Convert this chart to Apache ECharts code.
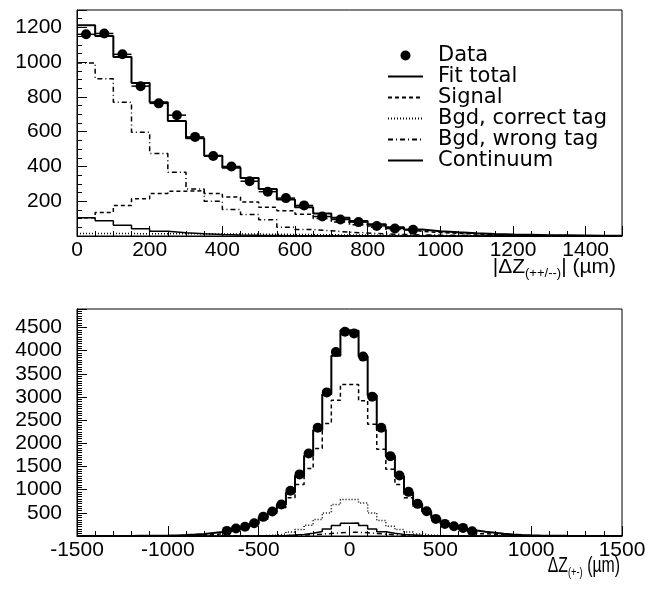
<!DOCTYPE html>
<html>
<head>
<meta charset="utf-8">
<script src="https://cdn.jsdelivr.net/npm/echarts@6/dist/echarts.min.js"></script>
<style>
html,body{margin:0;padding:0;background:#fff}
#chart{width:660px;height:591px}
</style>
</head>
<body>
<div id="chart"></div>
<script>
// top panel: |dZ(++/--)|, 50 um bins from 0
var topStart = 0, topBin = 50
var topData    = [1160, 1165, 1045, 862, 763, 695, 570, 460, 400, 315, 255, 218, 176, 112, 95, 80, 58, 43, 36]
var topFit     = [1212, 1150, 1030, 880, 770, 662, 562, 462, 392, 334, 271, 210, 165, 130, 105, 87, 67, 50, 37, 28, 21, 16, 12, 9, 7, 5, 4, 3, 2, 2]
var topSignal  = [105, 135, 175, 214, 245, 258, 260, 245, 225, 196, 165, 145, 125, 100, 80, 65, 50, 37, 27, 20, 15, 11, 8, 6, 4, 3, 2, 2, 1, 1]
var topCorrect = [14, 14, 14, 13, 13, 13, 12, 12, 11, 11, 10, 9, 8, 7, 6, 5, 4, 3, 3, 2, 2, 1, 1, 1, 1, 0, 0, 0, 0, 0]
var topWrong   = [995, 905, 769, 597, 474, 367, 271, 200, 152, 124, 93, 51, 37, 30, 22, 17, 12, 9, 6, 5, 4, 3, 2, 2, 1, 1, 1, 1, 0, 0]
var topCont    = [105, 88, 62, 42, 28, 19, 13, 9, 6, 4, 3, 2, 2, 1, 1, 1, 0, 0, 0, 0, 0, 0, 0, 0, 0, 0, 0, 0, 0, 0]

// bottom panel: dZ(+-), 50 um bins from -1500
var botStart = -1500, botBin = 50, botDataStart = -700
var botData    = [110, 160, 200, 275, 413, 530, 680, 975, 1330, 1780, 2337, 3100, 3970, 4410,
                  4370, 3872, 3008, 2337, 1724, 1306, 953, 694, 534, 369, 261, 210, 175, 102]
var botFit     = [0, 1, 1, 1, 2, 2, 3, 4, 6, 9, 13, 20, 30, 45, 65, 85, 125, 165, 205, 275, 400, 525, 680, 940, 1300, 1730, 2290, 3060, 3890, 4440,
                  4430, 3880, 3040, 2300, 1730, 1290, 940, 690, 525, 390, 275, 210, 165, 120, 90, 70, 50, 35, 24, 15, 10, 7, 5, 3, 2, 2, 1, 1, 1, 0]
var botSignal  = [0, 0, 0, 1, 1, 1, 2, 2, 3, 5, 7, 11, 17, 24, 33, 45, 95, 150, 190, 250, 360, 490, 615, 823, 1111, 1455, 1890, 2430, 2930, 3270,
                  3270, 2920, 2410, 1870, 1440, 1111, 823, 620, 495, 360, 255, 195, 150, 95, 50, 38, 27, 19, 13, 8, 6, 4, 3, 2, 1, 1, 1, 0, 0, 0]
var botCorrect = [0, 0, 0, 0, 0, 0, 0, 0, 0, 0, 0, 0, 0, 0, 0, 0, 1, 2, 3, 5, 10, 20, 45, 89, 138, 231, 355, 499, 679, 787,
                  787, 715, 499, 333, 210, 138, 89, 45, 20, 10, 5, 3, 2, 1, 0, 0, 0, 0, 0, 0, 0, 0, 0, 0, 0, 0, 0, 0, 0, 0]
var botWrong   = [0, 0, 0, 0, 0, 0, 0, 0, 0, 0, 0, 0, 0, 0, 0, 0, 0, 1, 1, 2, 3, 5, 8, 12, 18, 28, 40, 55, 70, 80,
                  80, 70, 55, 40, 28, 18, 12, 8, 5, 3, 2, 1, 1, 0, 0, 0, 0, 0, 0, 0, 0, 0, 0, 0, 0, 0, 0, 0, 0, 0]
var botCont    = [0, 0, 0, 0, 0, 0, 0, 0, 0, 0, 0, 0, 0, 0, 0, 0, 1, 1, 2, 3, 5, 8, 13, 22, 35, 60, 95, 150, 225, 275,
                  280, 225, 150, 92, 58, 35, 22, 13, 8, 5, 3, 2, 1, 1, 0, 0, 0, 0, 0, 0, 0, 0, 0, 0, 0, 0, 0, 0, 0, 0]

var FONT = 'Liberation Sans'

// histogram -> step points on bin edges
function steps(start, w, vals){
    var pts = vals.map(function(v,i){ return [start + i*w, v] })
    pts.push([start + vals.length*w, vals[vals.length-1]])
    return pts
}
function centers(start, w, vals){
    return vals.map(function(v,i){ return [start + (i+0.5)*w, v] })
}

function histo(name, idx, pts, type, width){
    return {
        name: name, type: 'line', step: 'end', xAxisIndex: idx, yAxisIndex: idx,
        data: pts, symbol: 'none', silent: true,
        itemStyle: {color: '#000'},
        lineStyle: {color: '#000', width: width, type: type}
    }
}
function errBars(idx, pts, half){
    return {
        name: 'err' + idx, type: 'custom', xAxisIndex: idx, yAxisIndex: idx, data: pts, silent: true, z: 4,
        renderItem: function(params, api){
            var x = api.value(0), y = api.value(1)
            var a = api.coord([x - half, y]), b = api.coord([x + half, y])
            return {type: 'line', shape: {x1: a[0], y1: a[1], x2: b[0], y2: b[1]}, style: {stroke: '#000', lineWidth: 1.5}}
        }
    }
}
function dots(idx, pts){
    return {
        name: 'Data', type: 'scatter', xAxisIndex: idx, yAxisIndex: idx, data: pts,
        symbol: 'circle', symbolSize: 10, itemStyle: {color: '#000', opacity: 1}, z: 5, silent: true
    }
}

var dashSignal = [4, 3], dotCorrect = [1, 2], dashWrong = [5, 3, 1, 3]

var label = {color: '#000', fontFamily: FONT, fontSize: 21, formatter: function(v){ return String(v) }}
function xAx(idx, min, max, interval, minorSplit, showMax){
    return {
        type: 'value', gridIndex: idx, min: min, max: max, interval: interval,
        axisLine: {onZero: false, lineStyle: {color: '#000', width: 1}},
        axisTick: {inside: true, length: 10, lineStyle: {color: '#000'}},
        minorTick: {show: true, splitNumber: minorSplit, length: 5, lineStyle: {color: '#000'}},
        splitLine: {show: false},
        axisLabel: Object.assign({margin: 4, showMaxLabel: showMax}, label)
    }
}
function yAx(idx, max, interval, minorSplit){
    return {
        type: 'value', gridIndex: idx, min: 0, max: max, interval: interval,
        axisLine: {show: true, onZero: false, lineStyle: {color: '#000', width: 1}},
        axisTick: {show: true, inside: true, length: 10, lineStyle: {color: '#000'}},
        minorTick: {show: true, splitNumber: minorSplit, length: 5, lineStyle: {color: '#000'}},
        splitLine: {show: false},
        axisLabel: Object.assign({margin: 15, showMinLabel: false, showMaxLabel: false}, label)
    }
}
// axis titles with subscripts
function axisTitle(text, right, top, size, sx){
    return {
        type: 'text', right: right, top: top, silent: true, scaleX: sx,
        style: {
            text: text, fill: '#000', fontFamily: FONT, fontSize: size, lineHeight: 26,
            rich: {s: {fontSize: 13, lineHeight: 14, verticalAlign: 'bottom', fontFamily: FONT, fill: '#000'}}
        }
    }
}

var chart = echarts.init(document.getElementById('chart'), null, {renderer: 'canvas'})
chart.setOption({
    animation: false,
    backgroundColor: '#fff',
    grid: [
        {left: 77, top: 10, width: 545, height: 226, show: true, borderColor: '#000', borderWidth: 1, containLabel: false, outerBoundsMode: 'none'},
        {left: 77, top: 309, width: 545, height: 227, show: true, borderColor: '#000', borderWidth: 1, containLabel: false, outerBoundsMode: 'none'}
    ],
    xAxis: [
        xAx(0, 0, 1500, 200, 4, false),
        xAx(1, -1500, 1500, 500, 5, true)
    ],
    yAxis: [
        yAx(0, 1300, 200, 4),
        yAx(1, 4900, 500, 10)
    ],
    graphic: [
        axisTitle('|ΔZ{s|(++/--)}| (µm)', 44, 254, 21, 1),
        axisTitle('ΔZ{s|(+-)} (µm)', 40, 553, 22, 0.72)
    ],
    legend: {
        orient: 'vertical', left: 387, top: 45, padding: 0,
        itemWidth: 35, itemHeight: 10, itemGap: 0,
        selectedMode: false,
        itemStyle: {opacity: 0},
        textStyle: {color: '#000', fontFamily: 'DejaVu Sans', fontSize: 21, lineHeight: 21, padding: [0, 0, 0, 10]},
        data: [
            {name: 'Data', itemStyle: {opacity: 1, color: '#000'}},
            'Fit total', 'Signal', 'Bgd, correct tag', 'Bgd, wrong tag', 'Continuum'
        ]
    },
    series: [
        dots(0, centers(topStart, topBin, topData)),
        histo('Fit total', 0, steps(topStart, topBin, topFit), 'solid', 2),
        histo('Signal', 0, steps(topStart, topBin, topSignal), dashSignal, 1.5),
        histo('Bgd, correct tag', 0, steps(topStart, topBin, topCorrect), dotCorrect, 1.5),
        histo('Bgd, wrong tag', 0, steps(topStart, topBin, topWrong), dashWrong, 1.5),
        histo('Continuum', 0, steps(topStart, topBin, topCont), 'solid', 1.5),
        errBars(0, centers(topStart, topBin, topData), topBin/2),

        histo('Fit total', 1, steps(botStart, botBin, botFit), 'solid', 2),
        histo('Signal', 1, steps(botStart, botBin, botSignal), dashSignal, 1.5),
        histo('Bgd, correct tag', 1, steps(botStart, botBin, botCorrect), dotCorrect, 1.5),
        histo('Bgd, wrong tag', 1, steps(botStart, botBin, botWrong), dashWrong, 1.5),
        histo('Continuum', 1, steps(botStart, botBin, botCont), 'solid', 1.5),
        errBars(1, centers(botDataStart, botBin, botData), botBin/2),
        dots(1, centers(botDataStart, botBin, botData))
    ]
})
</script>
</body>
</html>
